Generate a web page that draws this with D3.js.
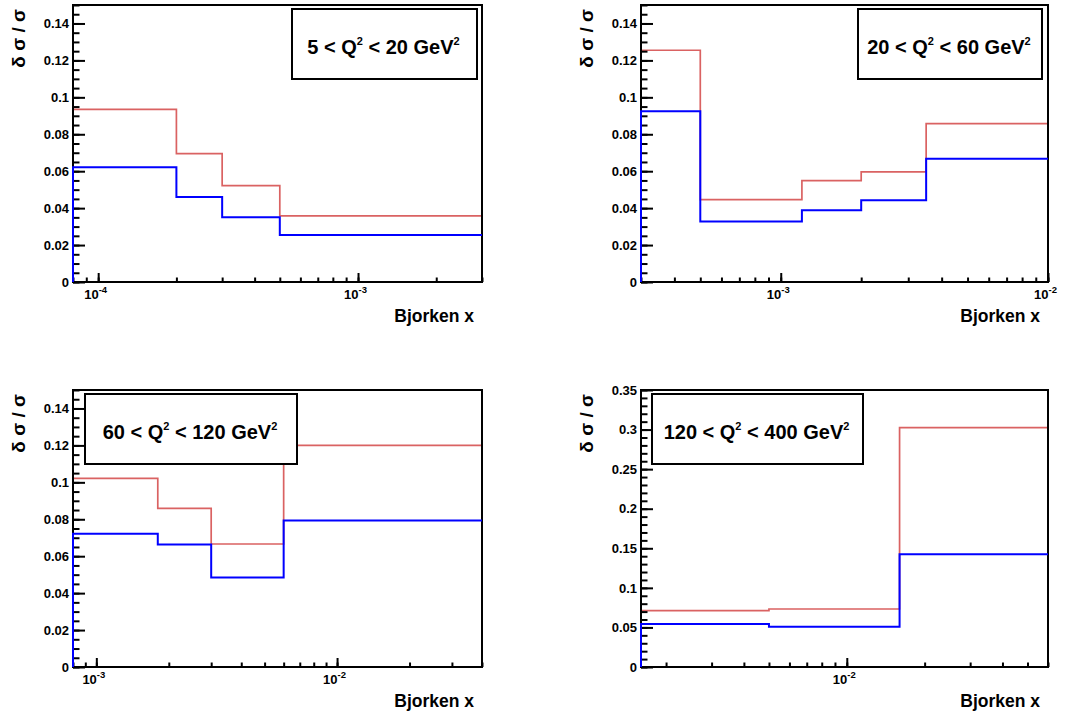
<!DOCTYPE html>
<html>
<head>
<meta charset="utf-8">
<script src="https://cdn.jsdelivr.net/npm/d3@7"></script>
<style>
  html, body { margin: 0; padding: 0; background: #ffffff; }
  svg { display: block; }
</style>
</head>
<body>
<div id="chart"></div>
<script>
// ---------- data ----------
const q2Low  = [5, 20, 60, 120];
const q2High = [20, 60, 120, 400];

const binEdges1 = [8e-5, 2e-4, 3e-4, 5e-4, 3e-3];
const red1  = [0.0935, 0.0695, 0.0522, 0.0358];
const blue1 = [0.0622, 0.0460, 0.0351, 0.0255];

const binEdges2 = [3e-4, 5e-4, 1.2e-3, 2e-3, 3.5e-3, 1e-2];
const red2  = [0.1255, 0.0446, 0.0549, 0.0596, 0.0858];
const blue2 = [0.0925, 0.0327, 0.0388, 0.0443, 0.0668];

const binEdges3 = [8e-4, 1.8e-3, 3e-3, 6e-3, 4e-2];
const red3  = [0.1021, 0.0859, 0.0666, 0.1200];
const blue3 = [0.0722, 0.0664, 0.0484, 0.0794];

const binEdges4 = [1.6e-3, 5e-3, 1.6e-2, 6e-2];
const red4  = [0.0712, 0.0733, 0.3024];
const blue4 = [0.0543, 0.0510, 0.1424];

const yMaxes = [0.15, 0.15, 0.15, 0.35];
const yTicksSmall = [0, 0.02, 0.04, 0.06, 0.08, 0.1, 0.12, 0.14];
const yTicksLarge = [0, 0.05, 0.1, 0.15, 0.2, 0.25, 0.3, 0.35];
const yMinorStepSmall = 0.005;
const yMinorStepLarge = 0.01;
const xMajorExponents = [[-4, -3], [-3, -2], [-3, -2], [-2]];
const xTitle = "Bjorken x";
const yTitle = "\u03b4 \u03c3 / \u03c3";

// ---------- layout ----------
const W = 1066, H = 718;
const FONT = "'Liberation Sans', Arial, Helvetica, sans-serif";
const RED = "#da6262", BLUE = "#0000ff";

const panels = [
  { edges: binEdges1, red: red1, blue: blue1, yMax: yMaxes[0], yTicks: yTicksSmall, yMinor: yMinorStepSmall,
    frame: { x0: 73, x1: 482, y0: 5, y1: 282 }, box: { x0: 292, y0: 9, x1: 477, y1: 79 } },
  { edges: binEdges2, red: red2, blue: blue2, yMax: yMaxes[1], yTicks: yTicksSmall, yMinor: yMinorStepSmall,
    frame: { x0: 641, x1: 1048, y0: 5, y1: 282 }, box: { x0: 858, y0: 9, x1: 1042, y1: 79 } },
  { edges: binEdges3, red: red3, blue: blue3, yMax: yMaxes[2], yTicks: yTicksSmall, yMinor: yMinorStepSmall,
    frame: { x0: 73, x1: 482, y0: 390, y1: 667 }, box: { x0: 85, y0: 394, x1: 297, y1: 464 } },
  { edges: binEdges4, red: red4, blue: blue4, yMax: yMaxes[3], yTicks: yTicksLarge, yMinor: yMinorStepLarge,
    frame: { x0: 641, x1: 1048, y0: 390, y1: 667 }, box: { x0: 652, y0: 394, x1: 863, y1: 464 } }
];

const svg = d3.select("#chart").append("svg")
  .attr("width", W).attr("height", H)
  .attr("font-family", FONT);

svg.append("rect").attr("width", W).attr("height", H).attr("fill", "#ffffff");

function stepPoints(edges, vals) {
  const pts = [{ x: edges[0], v: 0 }];
  vals.forEach((v, i) => pts.push({ x: edges[i], v: v }));
  pts.push({ x: edges[edges.length - 1], v: vals[vals.length - 1] });
  return pts;
}

panels.forEach((p, i) => {
  const f = p.frame;
  const g = svg.append("g");
  const x = d3.scaleLog().domain([p.edges[0], p.edges[p.edges.length - 1]]).range([f.x0, f.x1]);
  const y = d3.scaleLinear().domain([0, p.yMax]).range([f.y1, f.y0]);

  const line = d3.line().x(d => x(d.x)).y(d => y(d.v)).curve(d3.curveStepAfter);

  // red histogram (drawn first, below axes)
  g.append("path").attr("d", line(stepPoints(p.edges, p.red)))
    .attr("fill", "none").attr("stroke", RED).attr("stroke-width", 1.7);

  // frame
  g.append("rect").attr("x", f.x0).attr("y", f.y0)
    .attr("width", f.x1 - f.x0).attr("height", f.y1 - f.y0)
    .attr("fill", "none").attr("stroke", "#000").attr("stroke-width", 2);

  // y minor ticks
  const nMinor = Math.round(p.yMax / p.yMinor);
  const yMinorVals = d3.range(0, nMinor + 1).map(k => k * p.yMinor);
  g.append("g").attr("transform", `translate(${f.x0},0)`)
    .call(d3.axisLeft(y).tickValues(yMinorVals).tickSize(-6.5).tickSizeOuter(0).tickFormat(""))
    .call(s => s.select(".domain").remove())
    .call(s => s.selectAll("line").attr("stroke", "#000").attr("stroke-width", 2));

  // y major ticks
  g.append("g").attr("transform", `translate(${f.x0},0)`)
    .call(d3.axisLeft(y).tickValues(p.yTicks).tickSize(-12).tickSizeOuter(0).tickPadding(4)
      .tickFormat(v => String(+v.toFixed(4))))
    .call(s => s.select(".domain").remove())
    .call(s => s.selectAll("line").attr("stroke", "#000").attr("stroke-width", 2))
    .call(s => s.selectAll("text").attr("font-family", FONT).attr("font-size", 13)
      .attr("font-weight", "bold").attr("fill", "#000"));

  // x minor ticks (log decades 1..9)
  const [lo, hi] = x.domain();
  const xMinorVals = [];
  for (let d = Math.floor(Math.log10(lo)); d <= Math.ceil(Math.log10(hi)); d++) {
    for (let k = 1; k <= 9; k++) {
      const v = k * Math.pow(10, d);
      if (v >= lo * 0.999 && v <= hi * 1.001) xMinorVals.push(v);
    }
  }
  g.append("g").attr("transform", `translate(0,${f.y1})`)
    .call(d3.axisBottom(x).tickValues(xMinorVals).tickSize(-4.5).tickSizeOuter(0).tickFormat(""))
    .call(s => s.select(".domain").remove())
    .call(s => s.selectAll("line").attr("stroke", "#000").attr("stroke-width", 2));

  // x major ticks with 10^n labels
  const majors = xMajorExponents[i].map(e => Math.pow(10, e));
  const xa = g.append("g").attr("transform", `translate(0,${f.y1})`)
    .call(d3.axisBottom(x).tickValues(majors).tickSize(-9).tickSizeOuter(0).tickPadding(0).tickFormat(""))
    .call(s => s.select(".domain").remove())
    .call(s => s.selectAll("line").attr("stroke", "#000").attr("stroke-width", 2));
  xa.selectAll(".tick").each(function(d, j) {
    const t = d3.select(this).select("text");
    t.text(null).attr("y", 17).attr("dy", null).attr("x", -3)
      .attr("text-anchor", "middle").attr("font-family", FONT)
      .attr("font-weight", "bold").attr("fill", "#000");
    t.append("tspan").attr("font-size", 13).text("10");
    t.append("tspan").attr("font-size", 9.5).attr("dy", -6).text(String(xMajorExponents[i][j]));
  });

  // blue histogram on top
  g.append("path").attr("d", line(stepPoints(p.edges, p.blue)))
    .attr("fill", "none").attr("stroke", BLUE).attr("stroke-width", 2);

  // axis titles
  g.append("text").attr("x", f.x1 - 8).attr("y", f.y1 + 40)
    .attr("text-anchor", "end").attr("font-size", 17.5).attr("font-weight", "bold")
    .attr("fill", "#000").text(xTitle);

  g.append("text")
    .attr("transform", `translate(${f.x0 - 48},${f.y0 + 4}) rotate(-90)`)
    .attr("text-anchor", "end").attr("font-size", 19).attr("font-weight", "bold")
    .attr("fill", "#000").text(yTitle);

  // legend box
  const b = p.box;
  g.append("rect").attr("x", b.x0).attr("y", b.y0)
    .attr("width", b.x1 - b.x0).attr("height", b.y1 - b.y0)
    .attr("fill", "#fff").attr("stroke", "#000").attr("stroke-width", 2);
  const lt = g.append("text").attr("x", (b.x0 + b.x1) / 2 - 1).attr("y", (b.y0 + b.y1) / 2 + 10)
    .attr("text-anchor", "middle").attr("font-size", 20).attr("font-weight", "bold").attr("fill", "#000");
  lt.append("tspan").text(`${q2Low[i]} < Q`);
  lt.append("tspan").attr("font-size", 11).attr("dy", -9).text("2");
  lt.append("tspan").attr("dy", 9).text(` < ${q2High[i]} GeV`);
  lt.append("tspan").attr("font-size", 11).attr("dy", -9).text("2");
});
</script>
</body>
</html>
